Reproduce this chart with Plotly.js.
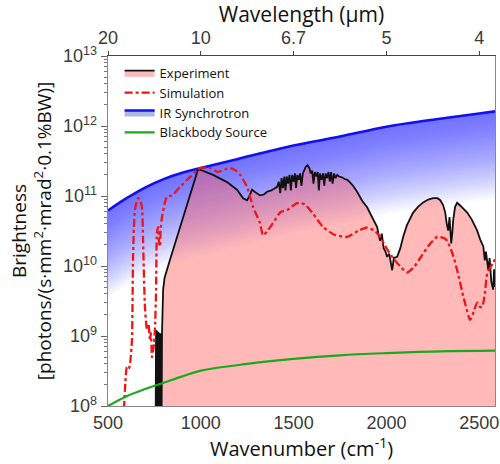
<!DOCTYPE html>
<html>
<head>
<meta charset="utf-8">
<script src="https://cdn.plot.ly/plotly-3.0.1.min.js"></script>
<style>html,body{margin:0;padding:0;background:#fff;}#chart{width:500px;height:464px;}</style>
</head>
<body>
<div id="chart"></div>
<script>
// ---- data (wavenumber in cm^-1, brightness in photons/(s·mm²·mrad²·0.1%BW)) ----
const expWn = [757,759,761,763,765,767,769,771,773,775,777,779,781,783,785,787,789,791,
  797,805,834,861,899,953,985,1000,1066,1141,1195,1228,1249,1262,1276,1300,1319,1340,1357,1380,1411,
  1420,1428,1435,1442,1450,1456,1463,1470,1478,1485,1492,1500,1507,1513,1520,1528,1535,1542,1550,1558,1565,1575,1585,1592,
  1600,1607,1614,1622,1630,1636,1642,1650,1658,1665,1672,1680,1688,1695,1702,1710,1718,1726,1735,1745,1760,1775,1790,1805,1820,1842,
  1870,1896,1920,1950,1958,1966,1975,1985,1995,2004,2015,2025,2031,2040,2058,2075,2090,2110,2130,2144,2170,2198,2225,2252,2275,2290,
  2305,2317,2325,2333,2340,2349,2355,2360,2370,2381,2400,2435,2460,2489,2505,2522,2530,2536,2549,2556,2565,2575,2580,2585];
const expVal = [9e7,1.22e9,9e7,1.2e9,9e7,1.2e9,9e7,1.15e9,9e7,1.12e9,9e7,1.1e9,9e7,1.1e9,9e7,1.08e9,9e7,1.1e9,
  4.6e9,6.8e9,1.23e10,2.1e10,4.1e10,1.23e11,2.4e11,2.35e11,2.0e11,1.58e11,1.23e11,9.3e10,8.7e10,1.0e11,1.23e11,1.1e11,1.02e11,1.05e11,1.15e11,1.2e11,1.35e11,
  1.6e11,1.1e11,1.8e11,1.3e11,1.9e11,1.2e11,1.9e11,1.5e11,2.0e11,1.2e11,2.0e11,1.6e11,2.1e11,1.3e11,2.0e11,1.7e11,2.1e11,1.4e11,2.1e11,2.3e11,2.6e11,2.75e11,2.5e11,2.1e11,
  2.3e11,1.5e11,2.2e11,1.9e11,2.2e11,1.2e11,2.1e11,1.7e11,2.1e11,1.4e11,2.1e11,1.8e11,2.2e11,1.6e11,2.2e11,1.5e11,2.1e11,1.8e11,2.0e11,1.9e11,1.85e11,1.75e11,1.7e11,1.55e11,1.4e11,1.15e11,
  8.5e10,6.9e10,5.2e10,3.6e10,2.8e10,2.3e10,2.9e10,1.8e10,1.6e10,1.35e10,1.5e10,1.0e10,8.7e9,1.3e10,1.35e10,1.8e10,2.6e10,3.8e10,5.0e10,5.8e10,7.0e10,8.1e10,8.9e10,9.3e10,9.3e10,8.7e10,
  7.5e10,5.8e10,4.0e10,3.2e10,5.0e10,2.1e10,3.0e10,4.6e10,7.0e10,8.0e10,7.2e10,5.8e10,4.6e10,3.2e10,2.4e10,1.9e10,1.2e10,1.6e10,8.7e9,1.3e10,6.0e9,4.6e9,9.0e9,5.0e9];

const simWn = [586,595,602,612,619,629,635,645,661,672,683,689,699,710,718,726,731,737,742,748,754,759,764,770,775,780,784,791,
  807,818,845,888,942,996,1050,1093,1130,1158,1190,1212,1249,1282,1319,1335,1355,1389,1430,1465,1519,1560,1600,1659,1720,1788,
  1850,1896,1935,1966,2000,2036,2080,2112,2150,2182,2230,2274,2310,2327,2360,2381,2420,2451,2470,2489,2505,2516,2530,2543,2560,2575,2585];
const simVal = [9e7,2.5e8,3.6e8,3.4e8,4.1e8,8.7e8,1.35e10,6.3e10,9.3e10,8.9e10,6.9e10,2.3e10,2.6e9,1.23e9,1.5e9,8.7e8,1.1e9,5.0e8,6.0e8,7.9e8,1.5e9,4.6e9,3.0e10,3.6e10,2.2e10,1.9e10,3.5e10,5.0e10,
  8.1e10,9.8e10,1.02e11,1.35e11,1.86e11,2.5e11,2.5e11,2.2e11,2.4e11,2.5e11,2.3e11,2.0e11,1.35e11,6.9e10,4.1e10,2.75e10,3.1e10,4.1e10,5.9e10,6.3e10,7.9e10,7.6e10,5.8e10,3.6e10,2.8e10,2.6e10,
  3.2e10,3.55e10,3.2e10,2.6e10,1.8e10,1.3e10,9.5e9,8.1e9,9.8e9,1.3e10,2.0e10,2.6e10,2.5e10,2.3e10,1.4e10,8.7e9,3.2e9,1.7e9,2.2e9,3.0e9,2.6e9,2.6e9,4.0e9,7.8e9,9.5e9,1.12e10,1.25e10];

const synWn  = [500,600,700,800,900,1000,1200,1500,1750,2000,2250,2500,2585];
const synVal = [6.2e10,9.3e10,1.32e11,1.74e11,2.14e11,2.51e11,3.39e11,5.25e11,7.08e11,9.77e11,1.23e12,1.51e12,1.62e12];

const bbWn  = [500,600,700,800,900,1000,1250,1500,1750,2000,2250,2500,2585];
const bbVal = [1.0e8,1.38e8,1.75e8,2.15e8,2.65e8,3.2e8,4.0e8,4.7e8,5.3e8,5.7e8,6.0e8,6.15e8,6.2e8];

const wnTicks = [500,1000,1500,2000,2500];
const wlTicks = ['20','10','6.7','5','4'];
const yTicks = [1e8,1e9,1e10,1e11,1e12,1e13];
const yTickText = ['10<sup>8</sup>','10<sup>9</sup>','10<sup>10</sup>','10<sup>11</sup>','10<sup>12</sup>','10<sup>13</sup>'];

// ---- styling ----
const fadeDepth = 1.25;   // decades of blue glow below the synchrotron curve
const nLayers = 40;
const layerAlpha = 1 - Math.pow(0.38, 1 / nLayers);

const traces = [];
const scale = (arr, dec) => arr.map(v => v / Math.pow(10, dec));
// overlapping layers: each spans from the curve down to a different depth -> soft fade
for (let j = 0; j < nLayers; j++) {
  traces.push({x: synWn, y: scale(synVal, fadeDepth * (j + 1) / nLayers), mode: 'lines',
    line: {width: 0, shape: 'spline'}, showlegend: false, hoverinfo: 'skip'});
  traces.push({x: synWn, y: synVal, mode: 'lines', fill: 'tonexty',
    fillcolor: 'rgba(45,45,235,' + layerAlpha.toFixed(4) + ')',
    line: {width: 0, shape: 'spline'}, showlegend: false, hoverinfo: 'skip'});
}
traces.push({x: synWn, y: synVal, name: 'IR Synchrotron', mode: 'lines', fill: 'none',
  line: {color: 'rgb(15,15,240)', width: 2.6, shape: 'spline'}, showlegend: false, hoverinfo: 'skip'});
// legend entry for synchrotron (line + light fill swatch)
traces.push({x: [null], y: [null], name: 'IR Synchrotron', mode: 'lines', fill: 'toself',
  fillcolor: 'rgb(170,185,225)', line: {color: 'rgb(15,15,240)', width: 2.6}, legendrank: 3});

traces.push({x: expWn, y: expVal, name: 'Experiment', mode: 'lines', fill: 'tozeroy',
  fillcolor: 'rgba(255,100,100,0.45)', line: {color: '#111', width: 1.8}, legendrank: 1});
traces.push({x: simWn, y: simVal, name: 'Simulation', mode: 'lines',
  line: {color: 'rgb(240,20,20)', width: 2.3, dash: '8px,3px,3px,3px', shape: 'spline', smoothing: 0.6}, legendrank: 2});
traces.push({x: bbWn, y: bbVal, name: 'Blackbody Source', mode: 'lines',
  line: {color: 'rgb(25,170,25)', width: 2.2, shape: 'spline'}, legendrank: 4});
// invisible trace so that the top (wavelength) axis is drawn
traces.push({x: synWn, y: synVal, xaxis: 'x2', yaxis: 'y', mode: 'lines', line: {width: 0},
  showlegend: false, hoverinfo: 'skip'});

const minorVals = [];
for (let e = 8; e < 13; e++) for (let m = 2; m <= 9; m++) minorVals.push(m * Math.pow(10, e));

const tickFont = {family: 'Liberation Sans, Arial, sans-serif', size: 18, color: '#3a3a3a'};

const layout = {
  width: 500, height: 464,
  margin: {l: 108, r: 5, t: 56, b: 58},
  paper_bgcolor: '#fff', plot_bgcolor: '#fff',
  showlegend: true,
  legend: {x: 0.03, y: 0.995, xanchor: 'left', yanchor: 'top', bgcolor: 'rgba(0,0,0,0)', traceorder: 'normal',
    font: {family: 'Open Sans, sans-serif', size: 13, color: '#111'}},
  xaxis: {range: [500, 2585], tickvals: wnTicks, ticks: '', showline: true, linecolor: '#888', linewidth: 1.3,
    showgrid: false, zeroline: false, tickfont: tickFont,
    title: {text: 'Wavenumber (cm<sup>-1</sup>)', font: {family: 'Open Sans, sans-serif', size: 20, color: '#111'}, standoff: 6}},
  xaxis2: {range: [500, 2585], overlaying: 'x', side: 'top', anchor: 'y', tickvals: wnTicks, ticktext: wlTicks,
    ticks: 'outside', ticklen: 4, tickcolor: '#444', showline: true, linecolor: '#444', linewidth: 1.3,
    showgrid: false, zeroline: false, tickfont: tickFont,
    title: {text: 'Wavelength (\u00b5m)', font: {family: 'Open Sans, sans-serif', size: 21, color: '#111'}, standoff: 2}},
  yaxis: {type: 'log', range: [8, 13], tickvals: yTicks, ticktext: yTickText,
    ticks: 'outside', ticklen: 6, tickcolor: '#666', showline: true, linecolor: '#888', linewidth: 1.3, mirror: true,
    minor: {tickmode: 'array', tickvals: minorVals, ticks: 'outside', ticklen: 3, tickcolor: '#777'},
    showgrid: false, zeroline: false, tickfont: tickFont,
    title: {text: 'Brightness<br>[photons/(s\u00b7mm<sup>2</sup>\u00b7mrad<sup>2</sup>\u00b70.1%BW)]',
      font: {family: 'Open Sans, sans-serif', size: 19, color: '#111'}, standoff: 6}}
};

Plotly.newPlot('chart', traces, layout, {displayModeBar: false, staticPlot: true});
</script>
</body>
</html>
